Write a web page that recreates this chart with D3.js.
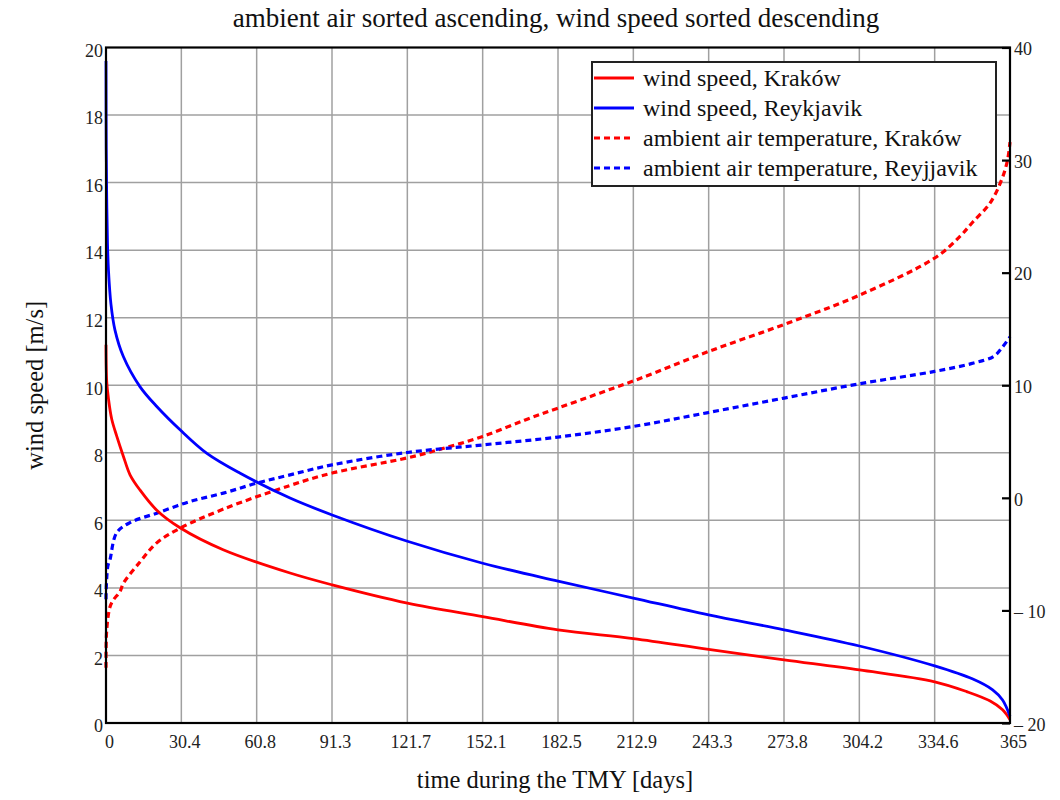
<!DOCTYPE html>
<html>
<head>
<meta charset="utf-8">
<script src="https://cdn.jsdelivr.net/npm/d3@7"></script>
<style>
html,body{margin:0;padding:0;background:#fff;}
svg{display:block;font-family:"Liberation Serif","Times New Roman",serif;}
</style>
</head>
<body>
<svg id="chart" width="1060" height="800"></svg>
<script>
// ---- data (day of year, value) ----
const windKrakow = [[0,11.2],[0.3,10.1],[1,9.6],[2.3,9.0],[4.3,8.5],[7,7.9],[9.7,7.35],[13.7,6.9],[20.5,6.3],[29.9,5.78],[47.3,5.13],[74.3,4.44],[91.3,4.09],[121.7,3.55],[152.1,3.15],[182.5,2.76],[212.9,2.5],[243.3,2.18],[273.8,1.87],[304.2,1.57],[334.6,1.22],[347.5,0.93],[357,0.65],[362,0.39],[365,0.1]];
const windReykjavik = [[0,19.6],[0.1,17.0],[0.3,15.5],[0.6,14.2],[1.0,13.4],[2,12.4],[3.6,11.64],[7,10.85],[13.7,9.96],[20.5,9.37],[29.9,8.68],[40.6,7.99],[54,7.4],[74.3,6.66],[91.3,6.16],[121.7,5.38],[152.1,4.73],[182.5,4.2],[212.9,3.7],[243.3,3.2],[273.8,2.76],[304.2,2.28],[334.6,1.69],[350,1.3],[358,0.98],[362,0.68],[365,0.2]];
const tempKrakow = [[0,-15.1],[0.3,-11.7],[1.6,-9.7],[2.9,-9.1],[5.7,-8.3],[7,-7.6],[13.7,-5.7],[20.5,-4.0],[29.9,-2.7],[47.4,-1.0],[74.3,1.1],[91.3,2.2],[121.7,3.55],[136.3,4.4],[152.1,5.45],[169,6.9],[182.5,7.97],[199.3,9.3],[215.6,10.6],[243.3,13.0],[273.8,15.4],[304.2,18.0],[334.6,21.3],[344.7,23.2],[350,24.5],[357,26.2],[361.7,28.3],[364,30],[365,31.6]];
const tempReykjavik = [[0,-9.0],[0.1,-8.0],[0.8,-6.0],[1.6,-5.5],[4.3,-3.1],[9.7,-2.2],[20.5,-1.36],[33.9,-0.33],[47.4,0.42],[60.8,1.3],[74.3,2.04],[91.3,2.93],[121.7,4.03],[152.1,4.7],[182.5,5.4],[212.9,6.34],[243.3,7.58],[273.8,8.86],[304.2,10.13],[334.6,11.23],[350.3,11.97],[358.4,12.56],[362,13.4],[365,14.3]];

const xTickLabels = ["0","30.4","60.8","91.3","121.7","152.1","182.5","212.9","243.3","273.8","304.2","334.6","365"];
const leftTicks = [0,2,4,6,8,10,12,14,16,18,20];
const rightTicks = [-20,-10,0,10,20,30,40];
const seriesNames = ["wind speed, Kraków","wind speed, Reykjavik","ambient air temperature, Kraków","ambient air temperature, Reyjjavik"];
const titleText = "ambient air sorted ascending, wind speed sorted descending";
const xLabel = "time during the TMY [days]";
const yLabel = "wind speed [m/s]";

// ---- layout ----
const L = 106, R = 1010, T = 47.5, B = 723;
const svg = d3.select("#chart");
const x = d3.scaleLinear().domain([0,365]).range([L,R]);
const yL = d3.scaleLinear().domain([0,20]).range([B,T]);
const yR = d3.scaleLinear().domain([-20,40]).range([B,T]);
const xTicks = xTickLabels.map((s,i)=>365*i/12);

// grid
const grid = svg.append("g").attr("stroke","#a0a0a0").attr("stroke-width",1.5);
xTicks.slice(1,-1).forEach(d=>grid.append("line").attr("x1",x(d)).attr("x2",x(d)).attr("y1",T).attr("y2",B));
leftTicks.slice(1,-1).forEach(d=>grid.append("line").attr("x1",L).attr("x2",R).attr("y1",yL(d)).attr("y2",yL(d)));

// clip
svg.append("clipPath").attr("id","clip").append("rect").attr("x",L-2).attr("y",T).attr("width",R-L+4).attr("height",B-T);

const curve = d3.curveCatmullRom.alpha(0.5);
const lineL = d3.line().x(d=>x(d[0])).y(d=>yL(d[1])).curve(curve);
const lineR = d3.line().x(d=>x(d[0])).y(d=>yR(d[1])).curve(curve);
const plot = svg.append("g").attr("clip-path","url(#clip)").attr("fill","none");
plot.append("path").attr("d",lineR(tempKrakow)).attr("stroke","#ff0000").attr("stroke-width",3.2).attr("stroke-dasharray","6,4");
plot.append("path").attr("d",lineR(tempReykjavik)).attr("stroke","#0000ff").attr("stroke-width",3.2).attr("stroke-dasharray","6,4");
plot.append("path").attr("d",lineL(windKrakow)).attr("stroke","#ff0000").attr("stroke-width",2.8);
plot.append("path").attr("d",lineL(windReykjavik)).attr("stroke","#0000ff").attr("stroke-width",2.8);

// frame
svg.append("rect").attr("x",L).attr("y",T).attr("width",R-L).attr("height",B-T).attr("fill","none").attr("stroke","#000").attr("stroke-width",2.2);

// left axis labels
const axL = svg.append("g").attr("transform",`translate(${L-3},3)`)
  .call(d3.axisLeft(yL).tickValues(leftTicks).tickSize(0).tickPadding(0).tickFormat(d3.format("d")));
axL.select(".domain").remove();
axL.selectAll("text").attr("font-family","Liberation Serif").attr("font-size",18).attr("fill","#222");

// right axis
const axR = svg.append("g").attr("transform",`translate(${R},0)`)
  .call(d3.axisLeft(yR).tickValues(rightTicks).tickSize(8).tickFormat(()=>""));
axR.select(".domain").remove();
axR.selectAll("line").attr("stroke","#000").attr("stroke-width",2.2);
svg.append("g").selectAll("text").data(rightTicks).join("text")
  .attr("x",R+4).attr("y",d=>yR(d)+2).attr("dy","0.32em")
  .attr("font-size",18).attr("fill","#222")
  .text(d=> d<0 ? "\u2013 " + Math.abs(d) : String(d));

// bottom axis labels
const axB = svg.append("g").attr("transform",`translate(3,${B+12})`)
  .call(d3.axisBottom(x).tickValues(xTicks).tickSize(0).tickPadding(0).tickFormat((d,i)=>xTickLabels[i]));
axB.select(".domain").remove();
axB.selectAll("text").attr("font-family","Liberation Serif").attr("font-size",18).attr("fill","#222");

// titles
svg.append("text").attr("x",556).attr("y",27).attr("text-anchor","middle").attr("font-size",27).attr("fill","#111").text(titleText);
svg.append("text").attr("x",(L+R)/2-3).attr("y",788).attr("text-anchor","middle").attr("font-size",24.5).attr("fill","#111").text(xLabel);
svg.append("text").attr("transform",`translate(43,${(T+B)/2}) rotate(-90)`).attr("text-anchor","middle").attr("font-size",24.5).attr("fill","#111").text(yLabel);

// legend
const lg = svg.append("g");
lg.append("rect").attr("x",592).attr("y",62).attr("width",404).attr("height",124).attr("fill","#fff").attr("stroke","#222").attr("stroke-width",2);
const lcol = ["#ff0000","#0000ff","#ff0000","#0000ff"];
const ldash = [null,null,"6,4","6,4"];
seriesNames.forEach((n,i)=>{
  const yy = 78 + i*30;
  lg.append("line").attr("x1",594).attr("x2",634).attr("y1",yy).attr("y2",yy)
    .attr("stroke",lcol[i]).attr("stroke-width",3).attr("stroke-dasharray",ldash[i]);
  lg.append("text").attr("x",643).attr("y",yy).attr("dy","0.33em").attr("font-size",24).attr("fill","#111").text(n);
});
</script>
</body>
</html>
